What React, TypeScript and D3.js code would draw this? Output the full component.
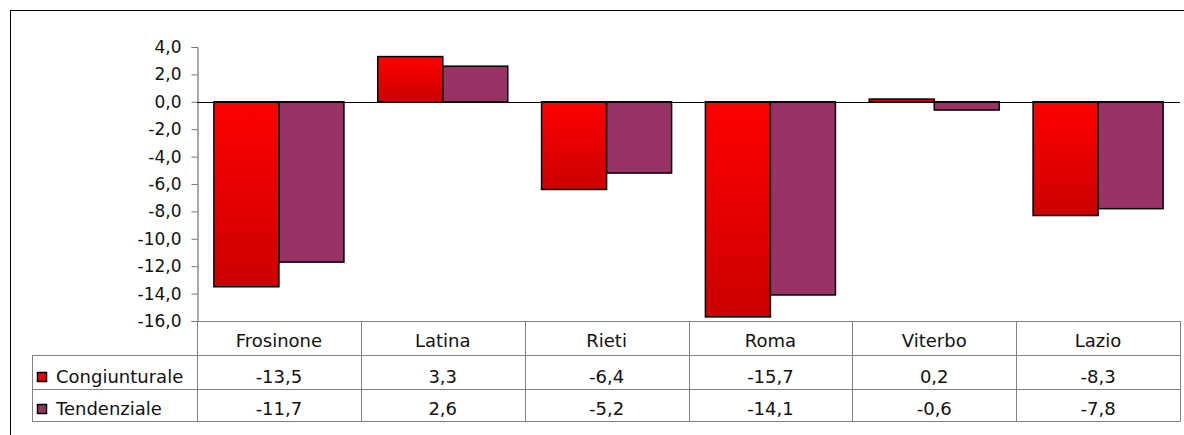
import * as d3 from "d3";
import { useEffect, useRef } from "react";

const categories = ["Frosinone", "Latina", "Rieti", "Roma", "Viterbo", "Lazio"];
const seriesNames = ["Congiunturale", "Tendenziale"];
const congiunturale = [-13.5, 3.3, -6.4, -15.7, 0.2, -8.3];
const tendenziale = [-11.7, 2.6, -5.2, -14.1, -0.6, -7.8];
const yTicks = [4, 2, 0, -2, -4, -6, -8, -10, -12, -14, -16];

const W = 1184;
const H = 435;
const font = "'DejaVu Sans', Verdana, sans-serif";

export default function App() {
  const ref = useRef<SVGSVGElement>(null);

  useEffect(() => {
    const svg = d3.select(ref.current);
    svg.selectAll("*").remove();

    const left = 197;
    const right = 1180;
    const top = 47;
    const bottom = 321;
    const legendLeft = 32;
    const rows = [321, 355, 389, 421];

    const fmt = (v: number) => d3.format(".1f")(v).replace(".", ",").replace("−", "-");

    const x0 = d3.scaleBand<string>().domain(categories).range([left, right]);
    const x1 = d3
      .scaleBand<string>()
      .domain(seriesNames)
      .range([0, x0.bandwidth()])
      .paddingInner(0)
      .paddingOuter(0.26);
    const y = d3.scaleLinear().domain([-16, 4]).range([bottom, top]);

    const defs = svg.append("defs");
    const grad = defs
      .append("linearGradient")
      .attr("id", "redGrad")
      .attr("x1", 0)
      .attr("y1", 0)
      .attr("x2", 0)
      .attr("y2", 1);
    grad.append("stop").attr("offset", "0%").attr("stop-color", "#ff0000");
    grad.append("stop").attr("offset", "100%").attr("stop-color", "#cc0000");

    // outer chart border
    svg
      .append("rect")
      .attr("x", 10.5)
      .attr("y", 10.5)
      .attr("width", W)
      .attr("height", H)
      .attr("fill", "white")
      .attr("stroke", "#000");

    // y axis
    const yAxis = svg.append("g").attr("transform", `translate(${left + 0.5},0)`);
    yAxis
      .call(d3.axisLeft(y).tickValues(yTicks).tickSize(6).tickPadding(10).tickFormat((d) => fmt(+d)))
      .call((g) => g.select(".domain").attr("stroke", "#555"))
      .call((g) => g.selectAll(".tick line").attr("stroke", "#777"))
      .call((g) =>
        g
          .selectAll(".tick text")
          .attr("fill", "#111")
          .attr("font-family", font)
          .attr("font-size", 17)
      );

    const fills = ["url(#redGrad)", "#993366"];
    const keyFills = ["#ee0000", "#993366"];
    const seriesData = [congiunturale, tendenziale];

    // bars
    seriesData.forEach((vals, si) => {
      svg
        .append("g")
        .selectAll("rect")
        .data(vals)
        .join("rect")
        .attr("x", (_, i) => x0(categories[i])! + x1(seriesNames[si])!)
        .attr("width", x1.bandwidth())
        .attr("y", (d) => y(Math.max(0, d)))
        .attr("height", (d) => Math.abs(y(d) - y(0)))
        .attr("fill", fills[si])
        .attr("stroke", "#000")
        .attr("stroke-width", 1.5);
    });

    // zero line
    svg
      .append("line")
      .attr("x1", left)
      .attr("x2", right)
      .attr("y1", Math.round(y(0)) + 0.5)
      .attr("y2", Math.round(y(0)) + 0.5)
      .attr("stroke", "#000");

    // data table
    const table = svg.append("g").attr("stroke", "#808080").attr("fill", "none");
    rows.forEach((ry, i) => {
      table
        .append("line")
        .attr("x1", i === 0 ? left : legendLeft)
        .attr("x2", right)
        .attr("y1", ry + 0.5)
        .attr("y2", ry + 0.5);
    });
    [...categories.map((c) => x0(c)!), right].forEach((vx) => {
      table
        .append("line")
        .attr("x1", Math.round(vx) + 0.5)
        .attr("x2", Math.round(vx) + 0.5)
        .attr("y1", rows[0])
        .attr("y2", rows[3] + 0.5);
    });
    table
      .append("line")
      .attr("x1", legendLeft + 0.5)
      .attr("x2", legendLeft + 0.5)
      .attr("y1", rows[1])
      .attr("y2", rows[3] + 0.5);

    const txt = svg
      .append("g")
      .attr("font-family", font)
      .attr("font-size", 18)
      .attr("fill", "#111")
      .attr("text-anchor", "middle");

    categories.forEach((c) => {
      txt
        .append("text")
        .attr("x", x0(c)! + x0.bandwidth() / 2)
        .attr("y", rows[1] - 8)
        .text(c);
    });

    seriesData.forEach((vals, si) => {
      const base = rows[si + 2] - 6;
      vals.forEach((v, i) => {
        txt
          .append("text")
          .attr("x", x0(categories[i])! + x0.bandwidth() / 2)
          .attr("y", base)
          .text(fmt(v));
      });
      svg
        .append("rect")
        .attr("x", 37.5)
        .attr("y", base - 10.5)
        .attr("width", 9)
        .attr("height", 9)
        .attr("fill", keyFills[si])
        .attr("stroke", "#000")
        .attr("stroke-width", 1.5);
      svg
        .append("text")
        .attr("x", 56)
        .attr("y", base)
        .attr("font-family", font)
        .attr("font-size", 18)
        .attr("fill", "#111")
        .text(seriesNames[si]);
    });
  }, []);

  return (
    <svg
      ref={ref}
      width={W}
      height={H}
      style={{ position: "absolute", left: 0, top: 0, background: "white" }}
    />
  );
}
